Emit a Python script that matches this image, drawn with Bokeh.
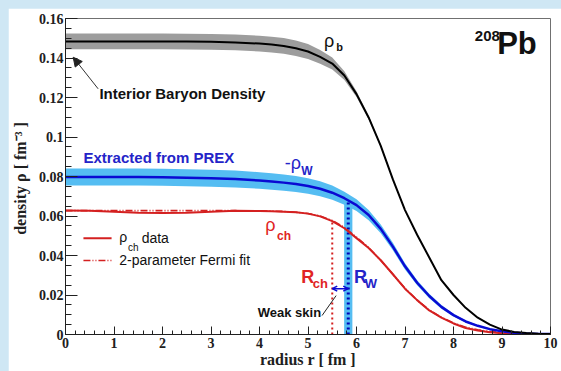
import re
from bokeh.plotting import figure
from bokeh.models import FixedTicker, CustomJSTickFormatter, Label, Arrow, NormalHead, OpenHead
from bokeh.embed import file_html
from bokeh.resources import INLINE

# ---------------- data ----------------
r = [0, 0.5, 1, 1.5, 2, 2.5, 3, 3.5, 4, 4.25, 4.5, 4.75, 5, 5.25, 5.5, 5.75, 6, 6.25,
     6.5, 6.75, 7, 7.25, 7.5, 7.75, 8, 8.25, 8.5, 8.75, 9, 9.25, 9.5, 9.75, 10]

rho_b = [0.1484, 0.1484, 0.1484, 0.1484, 0.1484, 0.1483, 0.1482, 0.1479, 0.1473, 0.1468,
         0.1461, 0.1449, 0.1433, 0.1406, 0.1372, 0.1311, 0.1217, 0.1099, 0.0955, 0.0785,
         0.0630, 0.0505, 0.0390, 0.0275, 0.0200, 0.0135, 0.0085, 0.0050, 0.0025, 0.0013,
         0.0007, 0.0004, 0.0002]
rho_b_err = [0.0040, 0.0040, 0.0040, 0.0040, 0.0040, 0.0040, 0.0040, 0.0040, 0.0040, 0.0040,
             0.0040, 0.0039, 0.0038, 0.0035, 0.0030, 0.0022, 0.0015, 0.0010, 0.0006, 0.0004,
             0.0002, 0.0001, 0.0, 0.0, 0.0, 0.0, 0.0, 0.0, 0.0, 0.0,
             0.0, 0.0, 0.0]

rho_w = [0.0798, 0.0798, 0.0798, 0.0797, 0.0796, 0.0794, 0.0791, 0.0787, 0.0780, 0.0775,
         0.0769, 0.0762, 0.0752, 0.0738, 0.0718, 0.0690, 0.0655, 0.0605, 0.0535, 0.0445,
         0.0345, 0.0262, 0.0195, 0.0140, 0.0098, 0.0066, 0.0044, 0.0027, 0.0016, 0.0009,
         0.0005, 0.0003, 0.0002]
rho_w_err = [0.0043, 0.0043, 0.0043, 0.0043, 0.0043, 0.0043, 0.0043, 0.0043, 0.0042, 0.0042,
             0.0041, 0.0040, 0.0039, 0.0038, 0.0036, 0.0033, 0.0030, 0.0026, 0.0022, 0.0019,
             0.0016, 0.0013, 0.0011, 0.0009, 0.0007, 0.0005, 0.0004, 0.0003, 0.0002, 0.0001,
             0.0001, 0.0001, 0.0001]

rho_ch = [0.0628, 0.0627, 0.0622, 0.0617, 0.0615, 0.0617, 0.0621, 0.0626, 0.0625, 0.0624,
          0.0622, 0.0619, 0.0612, 0.0598, 0.0574, 0.0538, 0.0488, 0.0438, 0.0376, 0.0305,
          0.0232, 0.0174, 0.0122, 0.0085, 0.0056, 0.0033, 0.0020, 0.0011, 0.0006, 0.0004,
          0.0002, 0.0001, 0.0001]

rho_fermi = [0.0627, 0.0627, 0.0627, 0.0627, 0.0627, 0.0627, 0.0627, 0.0627, 0.0626, 0.0625,
             0.0623, 0.0619, 0.0613, 0.0600, 0.0577, 0.0542, 0.0493, 0.0440, 0.0376, 0.0305,
             0.0234, 0.0174, 0.0124, 0.0087, 0.0058, 0.0037, 0.0024, 0.0015, 0.0009, 0.0006,
             0.0004, 0.0002, 0.0001]

R_ch = 5.50           # charge radius [fm]
R_W = 5.83            # weak radius [fm]
R_W_err = 0.085       # half-width of the R_W band
rho_ch_at_Rch = 0.0580
rho_w_at_RW = 0.0680

x_ticks = [0, 1, 2, 3, 4, 5, 6, 7, 8, 9, 10]
y_ticks = [0, 0.02, 0.04, 0.06, 0.08, 0.10, 0.12, 0.14, 0.16]

# ---------------- colours ----------------
BLACK = "#000000"
GREY_BAND = "#9d9d9d"
BLUE = "#0a0ad2"
BLUE_TXT = "#2424c8"
BLUE_BAND = "#55bdf2"
RED = "#d42020"
RED_TXT = "#e02424"

p = figure(width=553, height=363, x_range=(0, 10), y_range=(0, 0.16),
           output_backend="svg", toolbar_location=None,
           min_border_left=56, min_border_right=11, min_border_top=10, min_border_bottom=37)
p.background_fill_color = "white"
p.border_fill_color = "white"
p.outline_line_color = "#707070"
p.outline_line_width = 1
p.xgrid.grid_line_color = None
p.ygrid.grid_line_color = None

# bands
b_lo = [v - e for v, e in zip(rho_b, rho_b_err)]
b_hi = [v + e for v, e in zip(rho_b, rho_b_err)]
w_lo = [v - e for v, e in zip(rho_w, rho_w_err)]
w_hi = [v + e for v, e in zip(rho_w, rho_w_err)]
p.varea(x=r, y1=b_lo, y2=b_hi, fill_color=GREY_BAND, fill_alpha=1.0)
p.varea(x=r, y1=w_lo, y2=w_hi, fill_color=BLUE_BAND, fill_alpha=1.0)

# R_W band and radii markers
p.quad(left=[R_W - R_W_err], right=[R_W + R_W_err], bottom=[0], top=[rho_w_at_RW],
       fill_color=BLUE_BAND, line_color=None)
p.segment(x0=[R_W], y0=[0], x1=[R_W], y1=[rho_w_at_RW], line_color="#0000b4",
          line_width=3, line_dash="2 3")
p.segment(x0=[R_ch], y0=[0], x1=[R_ch], y1=[rho_ch_at_Rch], line_color=RED,
          line_width=2, line_dash="2 3")

# curves
p.line(r, rho_fermi, line_color=RED, line_width=1.6, line_dash="7 2 1 2 1 2")
p.line(r, rho_ch, line_color=RED, line_width=2)
p.line(r, rho_w, line_color=BLUE, line_width=2.5)
p.line(r, rho_b, line_color=BLACK, line_width=2)

# ---------------- axes ----------------
p.xaxis.ticker = FixedTicker(ticks=x_ticks, minor_ticks=[i * 0.2 for i in range(51)])
p.yaxis.ticker = FixedTicker(ticks=y_ticks, minor_ticks=[i * 0.005 for i in range(33)])
p.yaxis.formatter = CustomJSTickFormatter(code="""
    if (Math.abs(tick) < 1e-9) { return '0'; }
    var s = tick.toFixed(2);
    if (s.endsWith('0')) { s = s.slice(0, -1); }
    return s;
""")
for ax in (p.xaxis[0], p.yaxis[0]):
    ax.axis_line_color = "#202020"
    ax.axis_line_width = 1
    ax.major_tick_line_color = "#202020"
    ax.minor_tick_line_color = "#202020"
    ax.major_tick_out = 0
    ax.minor_tick_out = 0
    ax.major_label_text_font = "Liberation Serif"
    ax.major_label_text_font_style = "bold"
    ax.major_label_text_font_size = "14px"
    ax.major_label_text_color = "#202020"
    ax.axis_label_text_font = "Liberation Serif"
    ax.axis_label_text_font_style = "bold"
    ax.axis_label_text_font_size = "16px"
    ax.axis_label_text_color = "#202020"

p.xaxis.major_tick_in = 8
p.xaxis.minor_tick_in = 4
p.yaxis.major_tick_in = 12
p.yaxis.minor_tick_in = 6
p.xaxis.major_label_standoff = 3
p.yaxis.major_label_standoff = 2
p.xaxis.axis_label = "radius r [ fm ]"
p.yaxis.axis_label = "density  ρ [ fm⁻³ ]"
p.xaxis.axis_label_standoff = 0
p.yaxis.axis_label_standoff = 7

# ---------------- annotations ----------------
SANS = "Liberation Sans"


def txt(x, y, s, size, color="#111111", bold=True, align="left"):
    p.add_layout(Label(x=x, y=y, text=s, text_font=SANS, text_font_size=size,
                       text_font_style="bold" if bold else "normal", text_color=color,
                       text_align=align, text_baseline="middle"))


txt(0.70, 0.1222, "Interior Baryon Density", "15px")
p.add_layout(Arrow(end=NormalHead(size=9, fill_color="#222222", line_color="#222222"),
                   x_start=0.673, y_start=0.1244, x_end=0.158, y_end=0.1404,
                   line_color="#333333", line_width=1))
txt(0.37, 0.0896, "Extracted from PREX", "15px", color=BLUE_TXT)

txt(5.33, 0.1486, "ρ", "18px", bold=False)
txt(5.58, 0.1458, "b", "11px")

txt(4.52, 0.0868, "-ρ", "18px", color=BLUE_TXT, bold=False)
txt(4.86, 0.0827, "W", "12px", color=BLUE_TXT)

txt(4.12, 0.0554, "ρ", "18px", color=RED_TXT, bold=False)
txt(4.36, 0.0498, "ch", "12px", color=RED_TXT)

txt(4.86, 0.0291, "R", "18px", color=RED_TXT)
txt(5.10, 0.0257, "ch", "13px", color=RED_TXT)
txt(5.95, 0.0291, "R", "18px", color=BLUE_TXT)
txt(6.17, 0.0257, "W", "13px", color=BLUE_TXT)

p.add_layout(Arrow(start=OpenHead(size=5, line_color=BLUE, line_width=1.5),
                   end=OpenHead(size=5, line_color=BLUE, line_width=1.5),
                   x_start=R_ch, y_start=0.0232, x_end=R_W, y_end=0.0232,
                   line_color=BLUE, line_width=1.5))
txt(5.27, 0.0111, "Weak skin", "13px", align="right")
p.add_layout(Arrow(end=None, x_start=5.29, y_start=0.0096, x_end=5.58, y_end=0.0197,
                   line_color="#222222", line_width=1))

txt(8.44, 0.1513, "208", "15px")
txt(8.90, 0.1475, "Pb", "31px")

# legend (drawn by hand so that the subscript can be kept)
LEG_X0, LEG_X1, LEG_TX = 0.37, 0.95, 1.11
LEG_Y1, LEG_Y2 = 0.0487, 0.0375
p.segment(x0=[LEG_X0], y0=[LEG_Y1], x1=[LEG_X1], y1=[LEG_Y1], line_color=RED, line_width=2)
p.segment(x0=[LEG_X0], y0=[LEG_Y2], x1=[LEG_X1], y1=[LEG_Y2], line_color=RED,
          line_width=1.6, line_dash="7 2 1 2 1 2")
txt(LEG_TX, LEG_Y1 + 0.0008, "ρ", "14px", bold=False)
txt(LEG_TX + 0.18, LEG_Y1 - 0.0044, "ch", "10px", bold=False)
txt(LEG_TX + 0.46, LEG_Y1, "data", "14px", bold=False)
txt(LEG_TX, LEG_Y2, "2-parameter Fermi fit", "14px", bold=False)

html = file_html(p, INLINE)
page_css = ("<style>html, body { background-color: #cfe7f4 !important; } "
            "body { margin: 0 !important; padding: 8px 0 0 8px !important; "
            "overflow: hidden !important; }</style>")
if "</head>" in html:
    html = html.replace("</head>", page_css + "</head>", 1)
else:
    html = re.sub(r"(<body[^>]*>)", r"\1" + page_css, html, count=1)
open("out.html", "w").write(html)
